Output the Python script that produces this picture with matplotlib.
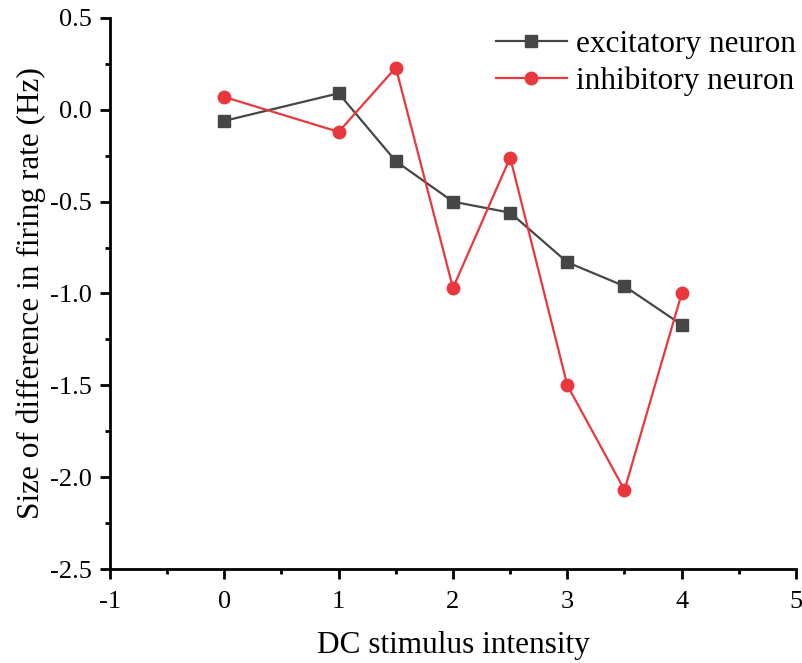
import matplotlib
matplotlib.use("Agg")
import matplotlib.pyplot as plt
from matplotlib.ticker import MultipleLocator

x = [0, 1, 1.5, 2, 2.5, 3, 3.5, 4]
excitatory = [-0.06, 0.09, -0.28, -0.50, -0.56, -0.83, -0.96, -1.17]
inhibitory = [0.07, -0.12, 0.23, -0.97, -0.26, -1.50, -2.07, -1.00]
labels = ["excitatory neuron", "inhibitory neuron"]

plt.rcParams['font.family'] = ['Liberation Serif', 'DejaVu Serif']
plt.rcParams['axes.unicode_minus'] = False

fig = plt.figure(figsize=(8.03, 6.63), dpi=100)
ax = fig.add_axes([110/803, 1 - 569/663, 686/803, 551/663])

ax.plot(x, excitatory, color='#464646', marker='s', markersize=9, linewidth=1.6, label=labels[0])
ax.plot(x, inhibitory, color='#e8383d', marker='o', markersize=9, linewidth=1.6, label=labels[1])

ax.set_xlim(-1, 5)
ax.set_ylim(-2.5, 0.5)
ax.xaxis.set_major_locator(MultipleLocator(1))
ax.xaxis.set_minor_locator(MultipleLocator(0.5))
ax.yaxis.set_major_locator(MultipleLocator(0.5))
ax.yaxis.set_minor_locator(MultipleLocator(0.25))
ax.yaxis.set_major_formatter(plt.FuncFormatter(lambda v, p: f"{v:.1f}"))

for s in ['top', 'right']:
    ax.spines[s].set_visible(False)
for s in ['left', 'bottom']:
    ax.spines[s].set_linewidth(2)
ax.tick_params(which='major', direction='out', length=7, width=2, labelsize=19, pad=6)
ax.tick_params(axis='x', which='major', pad=8.5)
ax.tick_params(which='minor', direction='out', length=3.5, width=2)

ax.set_xlabel("DC stimulus intensity", fontsize=22.5, labelpad=13)
ax.set_ylabel("Size of difference in firing rate (Hz)", fontsize=22.5, labelpad=3)

ax.legend(loc='upper right', frameon=False, fontsize=22.5, handlelength=2.25,
          handletextpad=0.3, borderaxespad=0.0, borderpad=0.0, labelspacing=0.25,
          bbox_to_anchor=(1.0, 1.0 - 12/551))

fig.savefig("out.png", dpi=100)
